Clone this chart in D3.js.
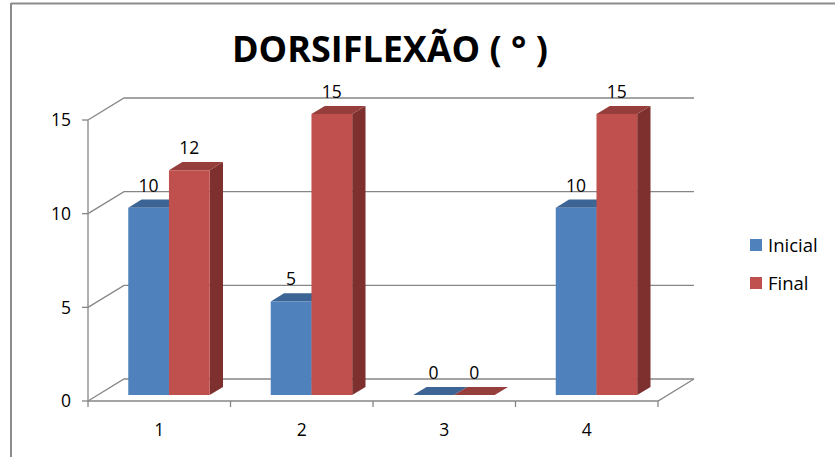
<!DOCTYPE html>
<html>
<head>
<meta charset="utf-8">
<script src="https://cdn.jsdelivr.net/npm/d3@7"></script>
<style>
  html, body { margin: 0; padding: 0; background: #fff; }
  svg { display: block; font-family: "Open Sans", Lato, sans-serif; }
</style>
</head>
<body>
<svg id="chart" width="835" height="457"></svg>
<script>
// Chart data
const categories = ["1", "2", "3", "4"];
const seriesNames = ["Inicial", "Final"];
const inicial = [10, 5, 0, 10];
const finalValues = [12, 15, 0, 15];
const yTicks = [0, 5, 10, 15];
const title = "DORSIFLEXÃO ( ° )";

const colors = {
  Inicial: { front: "#4F81BD", top: "#3C6494", side: "#34577F" },
  Final:   { front: "#C0504D", top: "#963E3B", side: "#7D302E" }
};

const labelSize = 17.5;
const svg = d3.select("#chart");

// Outer frame (top and left edges)
svg.append("line").attr("x1", 11).attr("x2", 835).attr("y1", 3.5).attr("y2", 3.5)
  .attr("stroke", "#8c8c8c").attr("stroke-width", 2);
svg.append("line").attr("x1", 11).attr("x2", 11).attr("y1", 3).attr("y2", 457)
  .attr("stroke", "#8c8c8c").attr("stroke-width", 2);

// Plot geometry: front plane and a depth vector for the 3D box
const left = 88, right = 658, bottom = 401;
const depthX = 36, depthY = -22;
const y = d3.scaleLinear().domain([0, 15]).range([bottom, 120]);
const x0 = d3.scaleBand().domain(categories).range([left, right]).paddingInner(0).paddingOuter(0);
const x1 = d3.scaleBand().domain(seriesNames).range([0, x0.bandwidth()]).paddingInner(0).paddingOuter(0.75);

// project a point (front-plane x, value, depth fraction) onto the screen
const proj = (x, v, d) => [x + d * depthX, y(v) + d * depthY];

const grid = svg.append("g").attr("stroke", "#868686").attr("stroke-width", 1.3).attr("fill", "none");

// back wall gridlines and side wall diagonals
yTicks.forEach(t => {
  const a = proj(left, t, 0), b = proj(left, t, 1), c = proj(right, t, 1);
  grid.append("polyline").attr("points", [a, b, c].map(p => p.join(",")).join(" "));
});
// floor: front edge and right diagonal
{
  const a = proj(left, 0, 0), b = proj(right, 0, 0), c = proj(right, 0, 1);
  grid.append("polyline").attr("points", [a, b, c].map(p => p.join(",")).join(" "));
}
// value axis line and ticks
grid.append("line").attr("x1", left).attr("x2", left).attr("y1", y(15)).attr("y2", y(0));
yTicks.forEach(t => {
  grid.append("line").attr("x1", left - 6).attr("x2", left).attr("y1", y(t)).attr("y2", y(t));
});
// category ticks
x0.domain().concat(["end"]).forEach((c, i) => {
  const xx = left + i * x0.step();
  grid.append("line").attr("x1", xx).attr("x2", xx).attr("y1", bottom).attr("y2", bottom + 6);
});

// value axis labels
svg.append("g").selectAll("text").data(yTicks).join("text")
  .attr("x", left - 17).attr("y", d => y(d)).attr("dy", "0.36em")
  .attr("text-anchor", "end").attr("font-size", labelSize).attr("fill", "#000")
  .text(d => d);

// category labels
svg.append("g").selectAll("text").data(categories).join("text")
  .attr("x", d => x0(d) + x0.bandwidth() / 2).attr("y", 436)
  .attr("text-anchor", "middle").attr("font-size", labelSize).attr("fill", "#000")
  .text(d => d);

// bars: front face at depth dF, back face at depth dB
const dF = 0.27, dB = 0.64;
const bars = [];
categories.forEach((c, i) => {
  bars.push({ cat: c, series: "Inicial", value: inicial[i] });
  bars.push({ cat: c, series: "Final", value: finalValues[i] });
});

const pts = arr => arr.map(p => p.join(",")).join(" ");
const barG = svg.append("g");
bars.forEach(b => {
  const xl = x0(b.cat) + x1(b.series), xr = xl + x1.bandwidth();
  const col = colors[b.series];
  const g = barG.append("g");
  // side face
  g.append("polygon").attr("fill", col.side).attr("points", pts([
    proj(xr, 0, dF), proj(xr, 0, dB), proj(xr, b.value, dB), proj(xr, b.value, dF)
  ]));
  // top face
  g.append("polygon").attr("fill", col.top).attr("points", pts([
    proj(xl, b.value, dF), proj(xr, b.value, dF), proj(xr, b.value, dB), proj(xl, b.value, dB)
  ]));
  // front face
  if (b.value > 0) {
    g.append("polygon").attr("fill", col.front).attr("points", pts([
      proj(xl, 0, dF), proj(xr, 0, dF), proj(xr, b.value, dF), proj(xl, b.value, dF)
    ]));
  }
  // value label
  const lp = proj((xl + xr) / 2, b.value, dF);
  const back = proj(xl, b.value, dB);
  svg.append("text")
    .attr("x", lp[0]).attr("y", back[1] - 8)
    .attr("text-anchor", "middle").attr("font-size", labelSize).attr("fill", "#000")
    .text(b.value);
});

// title
svg.append("text").attr("x", 390).attr("y", 62).attr("text-anchor", "middle")
  .attr("font-size", 36).attr("font-weight", 700).attr("fill", "#000")
  .attr("textLength", 316).attr("lengthAdjust", "spacingAndGlyphs")
  .text(title);

// legend
const legend = svg.append("g").selectAll("g").data(seriesNames).join("g")
  .attr("transform", (d, i) => `translate(750, ${239 + i * 38})`);
legend.append("rect").attr("width", 12).attr("height", 12).attr("fill", d => colors[d].front);
legend.append("text").attr("x", 18).attr("y", 6).attr("dy", "0.36em")
  .attr("font-size", 18.5).attr("fill", "#000").text(d => d);
</script>
</body>
</html>
